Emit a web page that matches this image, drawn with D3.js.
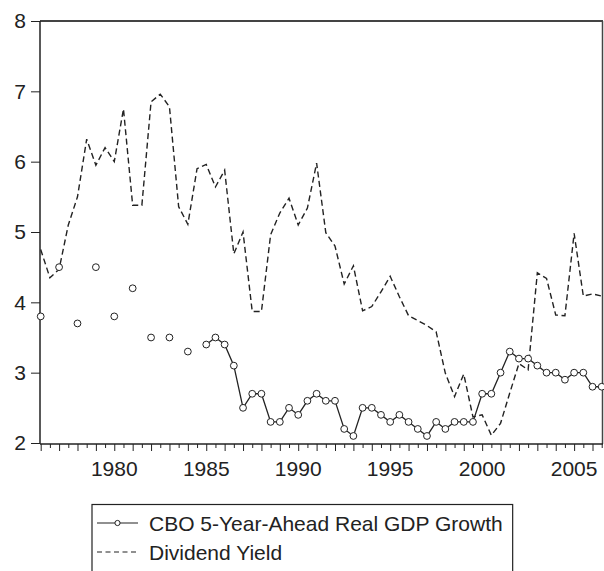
<!DOCTYPE html>
<html lang="en">
<head>
<meta charset="UTF-8">
<title>CBO growth vs dividend yield</title>
<style>
    body { margin: 0; padding: 0; background: #fff; }
    svg { display: block; font-family: "Liberation Sans", Arial, sans-serif; }
    .tick-label { font-size: 21px; fill: #222; }
    .legend-text { font-size: 21px; fill: #222; }
</style>
</head>
<body>
<svg id="chart" width="604" height="571"></svg>
<script src="https://d3js.org/d3.v7.min.js"></script>
<script>
    // semiannual observations, 1976S1 .. 2006S2
    const startYear = 1976;
    const nPeriods = 62;
    const periods = d3.range(nPeriods).map(i => startYear + Math.floor(i / 2) + (i % 2) / 2);

    // CBO 5-year-ahead real GDP growth (annual before 1985, semiannual after)
    const cboGrowth = [
        3.8, null, 4.5, null, 3.7, null, 4.5, null, 3.8, null,
        4.2, null, 3.5, null, 3.5, null, 3.3, null, 3.4, 3.5,
        3.4, 3.1, 2.5, 2.7, 2.7, 2.3, 2.3, 2.5, 2.4, 2.6,
        2.7, 2.6, 2.6, 2.2, 2.1, 2.5, 2.5, 2.4, 2.3, 2.4,
        2.3, 2.2, 2.1, 2.3, 2.2, 2.3, 2.3, 2.3, 2.7, 2.7,
        3.0, 3.3, 3.2, 3.2, 3.1, 3.0, 3.0, 2.9, 3.0, 3.0,
        2.8, 2.8
    ];

    const dividendYield = [
        4.75, 4.35, 4.47, 5.1, 5.5, 6.32, 5.95, 6.2, 6.0, 6.75,
        5.38, 5.38, 6.85, 6.96, 6.78, 5.36, 5.11, 5.9, 5.96, 5.64,
        5.88, 4.69, 5.0, 3.87, 3.87, 4.96, 5.27, 5.48, 5.1, 5.34,
        5.98, 4.99, 4.8, 4.26, 4.52, 3.88, 3.94, 4.15, 4.37, 4.08,
        3.81, 3.74, 3.67, 3.58, 2.99, 2.66, 2.98, 2.37, 2.4, 2.11,
        2.28, 2.71, 3.13, 3.04, 4.42, 4.34, 3.82, 3.81, 4.98, 4.09,
        4.12, 4.09
    ];

    const yTicks = [2, 3, 4, 5, 6, 7, 8];
    const xLabels = [1980, 1985, 1990, 1995, 2000, 2005];
    const legendLabels = ["CBO 5-Year-Ahead Real GDP Growth", "Dividend Yield"];

    const plot = { left: 40, right: 603, top: 21, bottom: 444 };

    const svg = d3.select("#chart");

    const x = d3.scaleLinear()
        .domain([1975.962, 2006.57])
        .range([plot.left, plot.right]);

    const y = d3.scaleLinear()
        .domain([2, 8])
        .range([443, 21]);

    // frame: top and right
    svg.append("line")
        .attr("x1", plot.left).attr("x2", plot.right)
        .attr("y1", plot.top).attr("y2", plot.top)
        .attr("stroke", "#444").attr("stroke-width", 2);
    svg.append("line")
        .attr("x1", plot.right - 0.5).attr("x2", plot.right - 0.5)
        .attr("y1", plot.top).attr("y2", plot.bottom)
        .attr("stroke", "#444").attr("stroke-width", 1.5);

    // y axis
    const yAxis = svg.append("g")
        .attr("transform", `translate(${plot.left},0)`)
        .call(d3.axisLeft(y).tickValues(yTicks).tickFormat(d3.format("d"))
            .tickSize(9).tickPadding(5).tickSizeOuter(0));
    yAxis.select(".domain").attr("stroke", "#222").attr("stroke-width", 1.5)
        .attr("d", `M0,${plot.top}V${plot.bottom}`);
    yAxis.selectAll(".tick line").attr("stroke", "#222").attr("stroke-width", 1);
    yAxis.selectAll(".tick text")
        .attr("class", "tick-label")
        .attr("font-size", null).attr("font-family", null);

    // x axis: a tick at each half year, longer ones on the year
    const xAxis = svg.append("g")
        .attr("transform", `translate(0,${plot.bottom})`)
        .call(d3.axisBottom(x).tickValues(periods).tickSize(5).tickFormat("").tickSizeOuter(0));
    xAxis.select(".domain").attr("stroke", "#222").attr("stroke-width", 1.5)
        .attr("d", `M${plot.left},0H${plot.right}`);
    xAxis.selectAll(".tick line")
        .attr("stroke", "#222").attr("stroke-width", 1)
        .attr("y2", d => (d % 1 === 0 ? 7 : 4));

    svg.append("g")
        .selectAll("text")
        .data(xLabels)
        .join("text")
        .attr("class", "tick-label")
        .attr("x", d => x(d))
        .attr("y", 476)
        .attr("text-anchor", "middle")
        .text(d => d);

    // dividend yield (dashed)
    const rows = periods.map((p, i) => ({ t: p, cbo: cboGrowth[i], dy: dividendYield[i] }));

    svg.append("path")
        .datum(rows)
        .attr("fill", "none")
        .attr("stroke", "#222")
        .attr("stroke-width", 1.4)
        .attr("stroke-dasharray", "6,3.5")
        .attr("d", d3.line().x(d => x(d.t)).y(d => y(d.dy)));

    // CBO growth (solid with circles)
    svg.append("path")
        .datum(rows)
        .attr("fill", "none")
        .attr("stroke", "#222")
        .attr("stroke-width", 1.3)
        .attr("d", d3.line().defined(d => d.cbo != null).x(d => x(d.t)).y(d => y(d.cbo)));

    svg.append("g")
        .selectAll("circle")
        .data(rows.filter(d => d.cbo != null))
        .join("circle")
        .attr("cx", d => x(d.t))
        .attr("cy", d => y(d.cbo))
        .attr("r", 3.4)
        .attr("fill", "#fff")
        .attr("stroke", "#222")
        .attr("stroke-width", 1);

    // legend
    const legend = svg.append("g");
    const lgLeft = 92, lgTop = 504.5, sampleX0 = 97, sampleX1 = 138, textX = 149;
    const rowY = [523, 552];

    const texts = legend.selectAll("text")
        .data(legendLabels)
        .join("text")
        .attr("class", "legend-text")
        .attr("x", textX)
        .attr("y", (d, i) => rowY[i])
        .attr("dy", "0.36em")
        .text(d => d);

    const maxW = d3.max(texts.nodes(), n => n.getComputedTextLength());
    legend.insert("rect", "text")
        .attr("x", lgLeft).attr("y", lgTop)
        .attr("width", textX + maxW + 10 - lgLeft)
        .attr("height", 100)
        .attr("fill", "none")
        .attr("stroke", "#222").attr("stroke-width", 1.2);

    legend.append("line")
        .attr("x1", sampleX0).attr("x2", sampleX1)
        .attr("y1", rowY[0]).attr("y2", rowY[0])
        .attr("stroke", "#222").attr("stroke-width", 1.2);
    legend.append("circle")
        .attr("cx", (sampleX0 + sampleX1) / 2).attr("cy", rowY[0])
        .attr("r", 2.6)
        .attr("fill", "#fff").attr("stroke", "#222").attr("stroke-width", 1);
    legend.append("line")
        .attr("x1", sampleX0).attr("x2", sampleX1)
        .attr("y1", rowY[1]).attr("y2", rowY[1])
        .attr("stroke", "#222").attr("stroke-width", 1.2)
        .attr("stroke-dasharray", "5,3.5");
</script>
</body>
</html>
